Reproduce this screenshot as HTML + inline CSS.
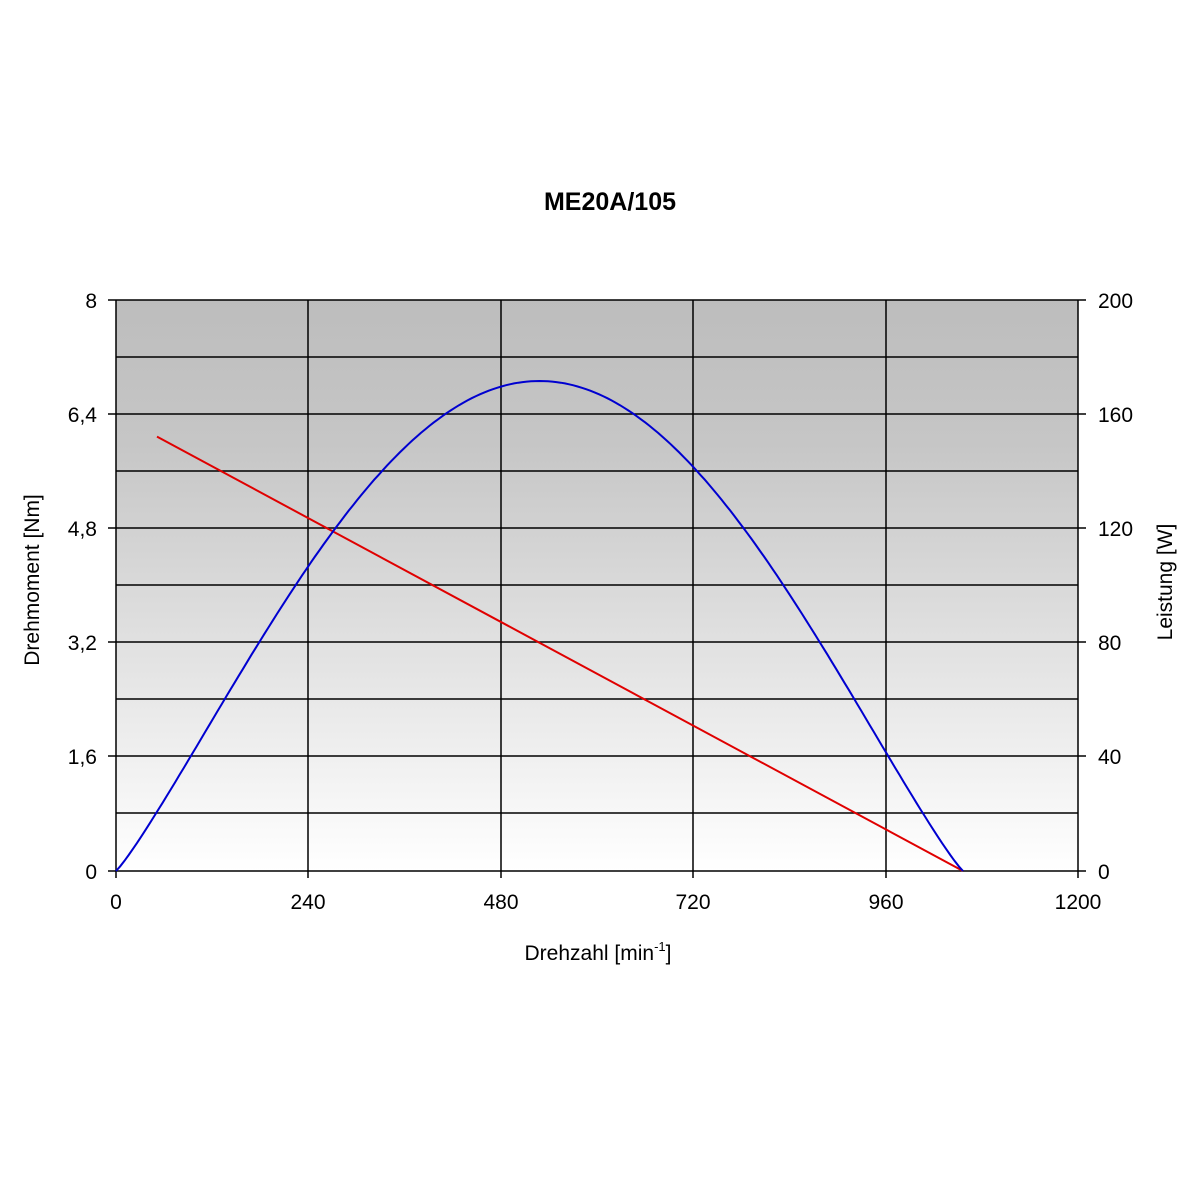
<!DOCTYPE html>
<html><head><style>body{margin:0;background:#fff}svg{display:block}text{font-family:"Liberation Sans",Arial,sans-serif;fill:#000}</style></head>
<body>
<svg width="1200" height="1200" viewBox="0 0 1200 1200">
<defs><linearGradient id="g" x1="0" y1="0" x2="0" y2="1"><stop offset="0" stop-color="#bdbdbd"/><stop offset="0.25" stop-color="#c6c6c6"/><stop offset="1" stop-color="#ffffff"/></linearGradient></defs>
<rect x="116" y="300" width="962" height="571" fill="url(#g)"/>
<g stroke="#000" stroke-width="1.5">
<line x1="108" y1="300" x2="1086" y2="300"/>
<line x1="116" y1="357" x2="1078" y2="357"/>
<line x1="108" y1="414" x2="1086" y2="414"/>
<line x1="116" y1="471" x2="1078" y2="471"/>
<line x1="108" y1="528" x2="1086" y2="528"/>
<line x1="116" y1="585" x2="1078" y2="585"/>
<line x1="108" y1="642" x2="1086" y2="642"/>
<line x1="116" y1="699" x2="1078" y2="699"/>
<line x1="108" y1="756" x2="1086" y2="756"/>
<line x1="116" y1="813" x2="1078" y2="813"/>
<line x1="108" y1="871" x2="1086" y2="871"/>
<line x1="116" y1="300" x2="116" y2="878"/>
<line x1="308" y1="300" x2="308" y2="878"/>
<line x1="501" y1="300" x2="501" y2="878"/>
<line x1="693" y1="300" x2="693" y2="878"/>
<line x1="886" y1="300" x2="886" y2="878"/>
<line x1="1078" y1="300" x2="1078" y2="878"/>
</g>
<polyline fill="none" stroke="#e00000" stroke-width="2" points="157,436.6 963,871"/>
<polyline id="blue" fill="none" stroke="#0000d0" stroke-width="2" points=""/>
<text x="610" y="210" font-size="25" font-weight="bold" text-anchor="middle">ME20A/105</text>
<g font-size="21" text-anchor="end">
<text x="97" y="308">8</text><text x="97" y="422">6,4</text><text x="97" y="536">4,8</text><text x="97" y="650">3,2</text><text x="97" y="764">1,6</text><text x="97" y="879">0</text>
</g>
<g font-size="21" text-anchor="start">
<text x="1098" y="308">200</text><text x="1098" y="422">160</text><text x="1098" y="536">120</text><text x="1098" y="650">80</text><text x="1098" y="764">40</text><text x="1098" y="879">0</text>
</g>
<g font-size="21" text-anchor="middle">
<text x="116" y="909">0</text><text x="308" y="909">240</text><text x="501" y="909">480</text><text x="693" y="909">720</text><text x="886" y="909">960</text><text x="1078" y="909">1200</text>
</g>
<text x="598" y="960" font-size="21" text-anchor="middle">Drehzahl [min<tspan font-size="13" dy="-9">-1</tspan><tspan dy="9">]</tspan></text>
<text transform="translate(39,580) rotate(-90)" font-size="21" text-anchor="middle">Drehmoment [Nm]</text>
<text transform="translate(1172,582) rotate(-90)" font-size="21" text-anchor="middle">Leistung [W]</text>
</svg>
<script>
var s=[];
for(var i=0;i<=200;i++){var x=116+i*(963-116)/200;var u=(x-539.5)/423.5;var c=Math.cos(Math.PI*u/2);if(c<0)c=0;
var h=Math.pow(c,1.12);var y=871-490*h;s.push(x.toFixed(1)+","+y.toFixed(1));}
document.getElementById("blue").setAttribute("points",s.join(" "));
</script>
</body></html>
